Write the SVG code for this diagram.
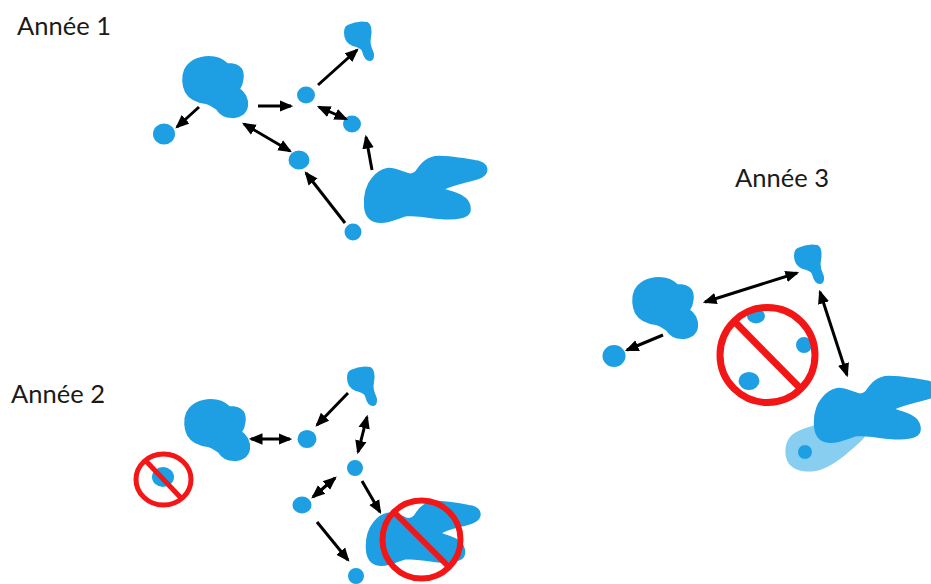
<svg xmlns="http://www.w3.org/2000/svg" xmlns:xlink="http://www.w3.org/1999/xlink" width="931" height="584" viewBox="0 0 931 584">
  <style>
    .label { font-family: Lato, "Liberation Sans", sans-serif; font-size: 25.5px; fill: #1a1a1a; }
    .pond { fill: #1e9fe3; stroke: #1e9fe3; stroke-width: 2; stroke-linejoin: round; }
    .halo { fill: #88cef1; }
    .link { stroke: #000; stroke-width: 3; fill: none; }
    .one { marker-end: url(#head); }
    .two { marker-start: url(#head); marker-end: url(#head); }
    .ban { fill: none; stroke: #f21616; }
  </style>
  <defs>
    <marker id="head" viewBox="0 0 12 10" refX="10" refY="5" markerWidth="4.6" markerHeight="4.2" orient="auto-start-reverse" markerUnits="strokeWidth">
      <path d="M0 0 L12 5 L0 10 Z" fill="#000"/>
    </marker>
    <!-- large rounded pond with two bumps on the right -->
    <path id="pondA" d="M 26 0 C 34 0 40 3 44 7 C 49 7 55 8 58 12 C 61 17 60 26 56 32 C 61 35 65 42 64 49 C 63 56 56 61 49 60 C 42 60 37 57 34 52 C 30 49 27 47 23 46 C 15 45 7 42 3 35 C 0 29 -1 20 2 13 C 6 5 15 0 26 0 Z"/>
    <!-- large pond with two arms reaching right -->
    <path id="pondB" d="M 24 12 C 30 11 36 14 42 16 C 46 18 50 18 53 15 C 57 9 62 2 72 0 C 82 -1 100 2 112 4 C 120 5 125 9 123 15 C 121 21 110 23 101 25 C 93 27 85 29 81 32 C 86 35 94 36 100 40 C 107 44 109 54 104 58 C 98 62 86 62 76 61 C 66 60 54 58 44 58 C 36 60 28 65 18 65 C 8 65 3 60 2 50 C 1 38 4 28 10 21 C 14 16 19 13 24 12 Z"/>
    <!-- small pond with a tail going down -->
    <path id="pondC" d="M 3 4 C 9 1 17 0 22 1 C 26 3 26 9 25 15 C 24 20 25 25 27 29 C 29 33 28 38 25 38 C 21 38 19 33 18 29 C 17 26 13 24 8 23 C 3 21 0 17 0 11 C 0 8 1 5 3 4 Z"/>
  </defs>

  <!-- year labels -->
  <text class="label" x="17" y="35">Année 1</text>
  <text class="label" x="11" y="403">Année 2</text>
  <text class="label" x="735" y="187">Année 3</text>

  <!-- ===== Year 1 ===== -->
  <g id="y1-pondA" class="pond"><use xlink:href="#pondA" transform="translate(183,57)"/></g>
  <g id="y1-pondB" class="pond"><use xlink:href="#pondB" transform="translate(363,157)"/></g>
  <g id="y1-pondC" class="pond"><use xlink:href="#pondC" transform="translate(345,22)"/></g>
  <g id="y1-n1" class="pond"><ellipse cx="164" cy="134" rx="10" ry="9.5"/></g>
  <g id="y1-n2" class="pond"><ellipse cx="306" cy="95" rx="8" ry="7.5"/></g>
  <g id="y1-n3" class="pond"><ellipse cx="352" cy="124" rx="8" ry="7.5"/></g>
  <g id="y1-n4" class="pond"><ellipse cx="299" cy="160" rx="9.5" ry="8.5"/></g>
  <g id="y1-n5" class="pond"><ellipse cx="353" cy="232" rx="7.5" ry="7.5"/></g>

  <!-- ===== Year 2 ===== -->
  <g id="y2-pondA" class="pond"><use xlink:href="#pondA" transform="translate(185,400)"/></g>
  <g id="y2-pondB" class="pond"><use xlink:href="#pondB" transform="translate(365,502) scale(0.93,0.97)"/></g>
  <g id="y2-pondC" class="pond"><use xlink:href="#pondC" transform="translate(348,367)"/></g>
  <g id="y2-n1" class="pond"><ellipse cx="307" cy="439" rx="8.5" ry="8"/></g>
  <g id="y2-n2" class="pond"><ellipse cx="355" cy="468" rx="7" ry="7"/></g>
  <g id="y2-n3" class="pond"><ellipse cx="302" cy="505" rx="8.5" ry="7.5"/></g>
  <g id="y2-n4" class="pond"><ellipse cx="356" cy="576" rx="7" ry="7"/></g>
  <g id="y2-n5" class="pond"><ellipse cx="163" cy="477" rx="10" ry="9"/></g>

  <!-- ===== Year 3 ===== -->
  <g id="y3-halo" class="halo"><path d="M 790 437 C 798 428 820 423 840 421 C 852 420 864 420 867 429 C 868 437 858 444 851 450 C 842 458 832 466 820 470 C 808 473 796 472 789 464 C 784 457 784 444 790 437 Z"/></g>
  <g id="y3-pondA" class="pond"><use xlink:href="#pondA" transform="translate(633,278)"/></g>
  <g id="y3-pondB" class="pond"><use xlink:href="#pondB" transform="translate(813,377)"/></g>
  <g id="y3-pondC" class="pond"><use xlink:href="#pondC" transform="translate(795,245)"/></g>
  <g id="y3-n1" class="pond"><ellipse cx="614" cy="356" rx="10.5" ry="10"/></g>
  <g id="y3-n2" class="pond"><ellipse cx="756" cy="316" rx="8" ry="6.5"/></g>
  <g id="y3-n3" class="pond"><ellipse cx="804" cy="345" rx="7" ry="7"/></g>
  <g id="y3-n4" class="pond"><ellipse cx="749" cy="381" rx="9.5" ry="8"/></g>
  <g id="y3-n5" class="pond"><ellipse cx="805" cy="452" rx="6" ry="6"/></g>

  <!-- connectors -->
  <g id="connectors" class="link">
    <line class="one" x1="199" y1="107" x2="177" y2="127"/>
    <line class="one" x1="258" y1="106" x2="291" y2="106"/>
    <line class="one" x1="318" y1="85" x2="357" y2="50"/>
    <line class="two" x1="319" y1="107" x2="346" y2="119"/>
    <line class="two" x1="244" y1="124" x2="290" y2="151"/>
    <line class="one" x1="372" y1="170" x2="366" y2="137"/>
    <line class="one" x1="345" y1="223" x2="306" y2="173"/>

    <line class="two" x1="251" y1="439" x2="290" y2="439"/>
    <line class="one" x1="348" y1="393" x2="317" y2="425"/>
    <line class="two" x1="367" y1="417" x2="358" y2="452"/>
    <line class="two" x1="335" y1="478" x2="313" y2="497"/>
    <line class="one" x1="317" y1="522" x2="348" y2="560"/>
    <line class="one" x1="362" y1="481" x2="380" y2="512"/>

    <line class="one" x1="663" y1="335" x2="627" y2="350"/>
    <line class="two" x1="705" y1="302" x2="797" y2="273"/>
    <line class="two" x1="820" y1="292" x2="847" y2="375"/>
  </g>

  <!-- prohibition signs -->
  <g id="ban-y2-small" class="ban" stroke-width="5">
    <ellipse cx="163.5" cy="479.5" rx="27.5" ry="25.5"/>
    <line x1="145" y1="460" x2="182" y2="499"/>
  </g>
  <g id="ban-y2-large" class="ban" stroke-width="6">
    <circle cx="421.5" cy="539.5" r="39"/>
    <line x1="394" y1="512" x2="449" y2="567"/>
  </g>
  <g id="ban-y3" class="ban" stroke-width="7">
    <circle cx="767.5" cy="355" r="47.5"/>
    <line x1="734" y1="321" x2="801" y2="389"/>
  </g>
</svg>
